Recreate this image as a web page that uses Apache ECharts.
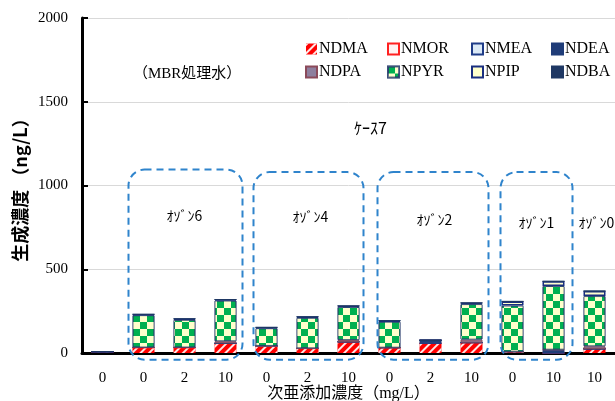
<!DOCTYPE html>
<html>
<head>
<meta charset="utf-8">
<script src="https://cdn.jsdelivr.net/npm/echarts@6/dist/echarts.min.js"></script>
<style>
  html, body { margin: 0; padding: 0; background: #fff; }
  #chart { width: 615px; height: 401px; }
</style>
</head>
<body>
<div id="chart"></div>
<script>
// カテゴリ（次亜添加濃度）
var categories = ["0", "0", "2", "10", "0", "2", "10", "0", "2", "10", "0", "10", "10"];
var yTicks = [0, 500, 1000, 1500, 2000];

// 各物質の生成濃度 (ng/L)
var NDMA = [8, 30, 30, 55, 40, 25, 62, 30, 58, 60, 8, 0, 25];
var NMOR = [0, 3, 3, 3, 2, 3, 5, 2, 0, 2, 0, 0, 0];
var NMEA = [0, 0, 0, 0, 0, 0, 0, 0, 0, 0, 0, 0, 0];
var NDEA = [0, 0, 0, 0, 0, 0, 0, 0, 18, 0, 0, 20, 0];
var NDPA = [0, 0, 0, 12, 0, 0, 10, 0, 0, 18, 0, 0, 15];
var NPYR = [0, 193, 165, 243, 106, 182, 198, 155, 0, 212, 275, 380, 300];
var NPIP = [0, 5, 6, 6, 5, 6, 6, 6, 0, 7, 25, 28, 30];
var NDBA = [0, 0, 0, 0, 0, 0, 0, 0, 0, 0, 0, 0, 0];

// 点線枠（カテゴリ範囲）とラベル
var boxes = [
  { from: 1, to: 3, top: 1095, padL: 15, padR: 17 },
  { from: 4, to: 6, top: 1080, padL: 13, padR: 15 },
  { from: 7, to: 9, top: 1080, padL: 12, padR: 17 },
  { from: 10, to: 11, top: 1080, padL: 12, padR: 19 }
];
var ozoneLabels = [
  { text: "ｵｿﾞﾝ6", cat: 2, dx: 0, y: 820 },
  { text: "ｵｿﾞﾝ4", cat: 5, dx: 3, y: 815 },
  { text: "ｵｿﾞﾝ2", cat: 8, dx: 4, y: 795 },
  { text: "ｵｿﾞﾝ1", cat: 10, dx: 24, y: 780 },
  { text: "ｵｿﾞﾝ0", cat: 12, dx: 2, y: 780 }
];

var serif = "'Liberation Serif', 'DejaVu Serif', serif";
var jp = "'Noto Sans CJK JP', sans-serif";
var serifJp = "'Liberation Serif', 'Noto Sans CJK JP', serif";

function bar(name, data, itemStyle) {
  return {
    name: name,
    type: "bar",
    stack: "total",
    barWidth: 22,
    data: data,
    itemStyle: itemStyle
  };
}

var series = [
  bar("NDMA", NDMA, {
    color: "#ff0000",
    decal: { symbol: "rect", color: "rgba(255,255,255,0.9)", dashArrayX: [1, 0], dashArrayY: [1.5, 4], rotation: -Math.PI / 4 }
  }),
  bar("NMOR", NMOR, { color: "#fff2f2", borderColor: "#ff2020", borderWidth: 1 }),
  bar("NMEA", NMEA, { color: "#dbe9f6", borderColor: "#1f3c88", borderWidth: 1 }),
  bar("NDEA", NDEA, { color: "#1f3c78", borderColor: "#1f3c78", borderWidth: 1 }),
  bar("NDPA", NDPA, { color: "#8e7f9e", borderColor: "#8b4a5a", borderWidth: 1 }),
  bar("NPYR", NPYR, {
    color: "#00b050",
    borderColor: "rgba(40,60,110,0.7)",
    borderWidth: 1,
    decal: { symbol: "rect", symbolSize: 1, color: "#ffffcc", dashArrayX: [[7, 7], [0, 7, 7, 0]], dashArrayY: [7, 0] }
  }),
  bar("NPIP", NPIP, { color: "#ffffcc", borderColor: "#1a2f80", borderWidth: 1.5 }),
  bar("NDBA", NDBA, { color: "#1f3864", borderColor: "#1f3864", borderWidth: 1 })
];

// 凡例は2行4列
var legendCols = [
  { left: 300, data: ["NDMA", "NDPA"] },
  { left: 382, data: ["NMOR", "NPYR"] },
  { left: 466, data: ["NMEA", "NPIP"] },
  { left: 546, data: ["NDEA", "NDBA"] }
];
var legends = legendCols.map(function (c) {
  return {
    orient: "vertical",
    left: c.left,
    top: 36,
    itemWidth: 11,
    itemHeight: 11,
    itemGap: 7,
    selectedMode: false,
    icon: "rect",
    data: c.data,
    textStyle: { fontFamily: serif, fontSize: 16, color: "#000", padding: [0, 0, 0, -3] }
  };
});

var myChart = echarts.init(document.getElementById("chart"));
var option = {
  animation: false,
  legend: legends,
  grid: { left: 82, right: 0, top: 18, bottom: 48, outerBoundsMode: "none", containLabel: false },
  xAxis: {
    type: "category",
    data: categories,
    axisTick: { show: false },
    axisLine: { lineStyle: { color: "#000", width: 3 } },
    axisLabel: { fontFamily: serif, fontSize: 15, color: "#000", margin: 18 },
    name: "次亜添加濃度（mg/L）",
    nameLocation: "middle",
    nameGap: 33,
    nameMoveOverlap: false,
    nameTextStyle: { fontFamily: serifJp, fontSize: 16, color: "#000" }
  },
  yAxis: {
    type: "value",
    min: yTicks[0],
    max: yTicks[yTicks.length - 1],
    interval: 500,
    axisLine: { show: true, onZero: false, lineStyle: { color: "#000", width: 3 } },
    axisTick: { show: true, inside: true, length: 6, lineStyle: { color: "#000", width: 2 } },
    axisLabel: { fontFamily: serif, fontSize: 15, color: "#000", margin: 14, formatter: function (v) { return String(v); } },
    splitLine: { lineStyle: { color: "#d9d9d9", width: 1 } },
    name: "生成濃度 （ng/L）",
    nameLocation: "middle",
    nameGap: 53,
    nameMoveOverlap: false,
    nameTextStyle: { fontFamily: jp, fontSize: 18, fontWeight: "bold", color: "#000" }
  },
  series: series
};
myChart.setOption(option);

// 注記（枠・テキスト）は軸座標から配置
var graphics = [];
boxes.forEach(function (b) {
  var p1 = myChart.convertToPixel({ gridIndex: 0 }, [b.from, b.top]);
  var p2 = myChart.convertToPixel({ gridIndex: 0 }, [b.to, -40]);
  var x1 = p1[0] - b.padL, x2 = p2[0] + b.padR;
  graphics.push({
    type: "rect",
    shape: { x: x1, y: p1[1], width: x2 - x1, height: p2[1] - p1[1], r: 16 },
    style: { fill: "none", stroke: "#2f84cc", lineWidth: 2, lineDash: [7, 5] },
    z: 10
  });
});
ozoneLabels.forEach(function (l) {
  var p = myChart.convertToPixel({ gridIndex: 0 }, [l.cat, l.y]);
  graphics.push({
    type: "text",
    x: p[0] + l.dx, y: p[1],
    style: { text: l.text, fontFamily: jp, fontSize: 14, fill: "#000", align: "center", verticalAlign: "middle" },
    z: 10
  });
});
graphics.push({
  type: "text", left: 133, top: 67,
  style: { text: "（MBR処理水）", fontFamily: serifJp, fontSize: 15, fill: "#000" }
});
graphics.push({
  type: "text", left: 354, top: 120,
  style: { text: "ｹｰｽ7", fontFamily: jp, fontSize: 16, fill: "#000" }
});
myChart.setOption({ graphic: graphics });
</script>
</body>
</html>
